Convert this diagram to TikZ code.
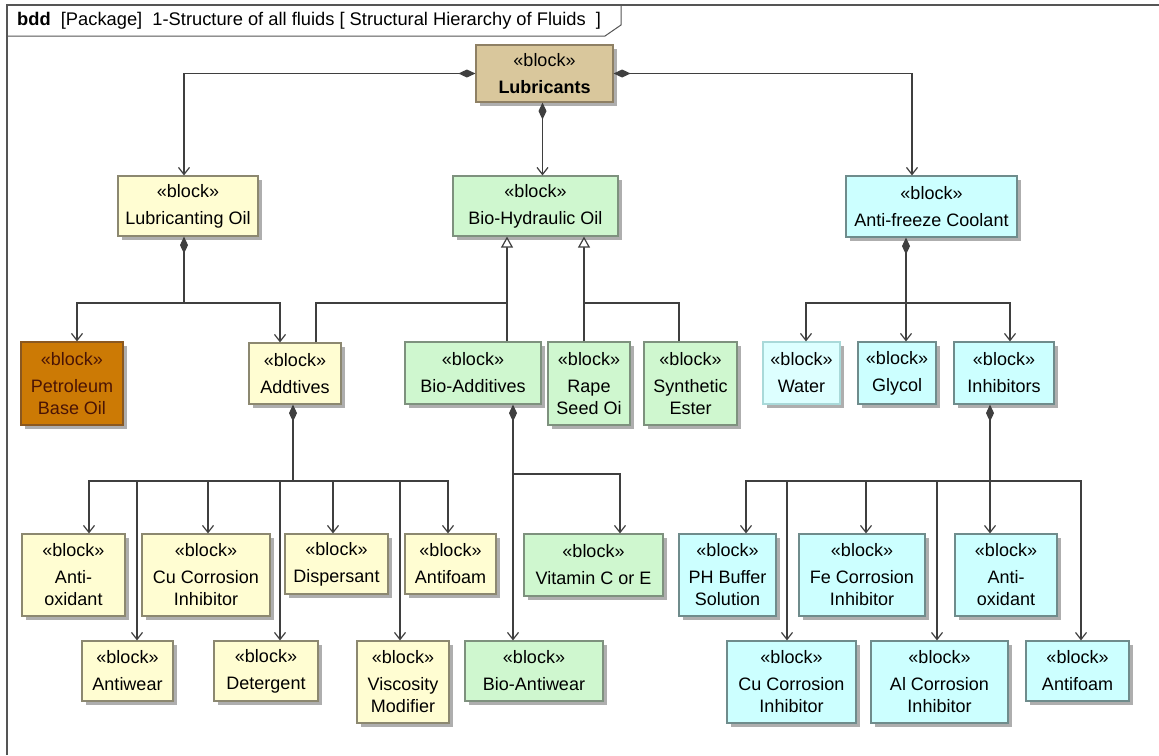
\documentclass[tikz,border=0pt]{standalone}
\usepackage{fontspec}
\setmainfont{Liberation Sans}
\usetikzlibrary{arrows.meta,shadows}
\definecolor{linec}{HTML}{3F3F3F}
\definecolor{framec}{HTML}{555555}
\definecolor{yelF}{HTML}{FFFDD2}
\definecolor{yelD}{HTML}{8C8870}
\definecolor{grnF}{HTML}{CFF7CF}
\definecolor{grnD}{HTML}{7E917E}
\definecolor{cyaF}{HTML}{CCFFFF}
\definecolor{cyaD}{HTML}{6F8C8C}
\definecolor{tanF}{HTML}{D9C79C}
\definecolor{tanD}{HTML}{8E8064}
\definecolor{ornF}{HTML}{CC7A05}
\definecolor{ornD}{HTML}{8A5820}
\definecolor{ornT}{HTML}{4A1405}
\definecolor{watF}{HTML}{DDFFFF}
\definecolor{watD}{HTML}{A9D9D9}
\definecolor{shad}{HTML}{A0A0A0}
\begin{document}
\begin{tikzpicture}[x=1pt,y=-1pt,
  blk/.style={draw, line width=1.2pt, rectangle, inner sep=0pt, align=center,
    font=\fontsize{18}{22}\selectfont, text=black,
    drop shadow={shadow xshift=4pt, shadow yshift=-4pt, fill=shad, opacity=0.85}},
  sz/.style 2 args={minimum width=#1pt, minimum height=#2pt},
  yel/.style={fill=yelF, draw=yelD},
  grn/.style={fill=grnF, draw=grnD},
  cya/.style={fill=cyaF, draw=cyaD},
  tanb/.style={fill=tanF, draw=tanD},
  orn/.style={fill=ornF, draw=ornD, text=ornT},
  wat/.style={fill=watF, draw=watD},
  conn/.style={draw=linec, line width=1.2pt},
  comp/.style={conn, {Diamond[length=17pt,width=8pt,fill=linec]}-},
  nav/.style={conn, -{Straight Barb[length=7pt,width=11pt]}},
  compnav/.style={conn, {Diamond[length=17pt,width=8pt,fill=linec]}-{Straight Barb[length=7pt,width=11pt]}},
  gen/.style={conn, -{Triangle[open,length=11pt,width=12pt,fill=white]}}
]
\useasboundingbox (0,0) rectangle (1159,755);
\fill[white] (0,0) rectangle (1159,755);
% frame
\draw[framec, line width=1.2pt] (7,755) -- (7,5) -- (1159,5);
\draw[framec, line width=1pt] (7,36) -- (605,36) -- (621,25) -- (621,5);
\node[anchor=west, inner sep=0pt, font=\fontsize{18.3}{20}\selectfont] (title) at (17,21)
  {\textbf{bdd}\ \ [Package]\ \ 1-Structure of all fluids [ Structural Hierarchy of Fluids\ \ ]};

% boxes
\node[blk, tanb, sz={137}{57}] (lub) at (544.5,73.5) {«block»\\[5pt]\textbf{Lubricants}};
\node[blk, yel, sz={140}{60}] (lo) at (188,206) {«block»\\[5pt]Lubricanting Oil};
\node[blk, grn, sz={165}{60}] (bho) at (535.5,206) {«block»\\[5pt]Bio-Hydraulic Oil};
\node[blk, cya, sz={171}{61}] (af) at (931.5,206.5) {«block»\\[5pt]Anti-freeze Coolant};

\node[blk, orn, sz={102}{83}] (pbo) at (72,383.5) {«block»\\[5pt]Petroleum\\Base Oil};
\node[blk, yel, sz={92}{61}] (add) at (295,373.5) {«block»\\[5pt]Addtives};
\node[blk, grn, sz={136}{62}] (bad) at (473,373) {«block»\\[5pt]Bio-Additives};
\node[blk, grn, sz={82}{83}] (rso) at (589,383.5) {«block»\\[5pt]Rape\\Seed Oi};
\node[blk, grn, sz={93}{83}] (se) at (690.5,383.5) {«block»\\[5pt]Synthetic\\Ester};
\node[blk, wat, sz={77}{62}] (wat) at (801.5,373) {«block»\\[5pt]Water};
\node[blk, cya, sz={78}{62}] (gly) at (897,373) {«block»\\[5pt]Glycol};
\node[blk, cya, sz={100}{62}] (inh) at (1004,373) {«block»\\[5pt]Inhibitors};

\node[blk, yel, sz={103}{82}] (ao1) at (73.5,575) {«block»\\[5pt]Anti-\\oxidant};
\node[blk, yel, sz={128}{82}] (cu1) at (206,575) {«block»\\[5pt]Cu Corrosion\\Inhibitor};
\node[blk, yel, sz={103}{60}] (dis) at (336.5,564) {«block»\\[5pt]Dispersant};
\node[blk, yel, sz={91}{60}] (af1) at (450.5,564) {«block»\\[5pt]Antifoam};
\node[blk, grn, sz={139}{62}] (vit) at (593.5,565) {«block»\\[5pt]Vitamin C or E};
\node[blk, yel, sz={91}{60}] (aw) at (127.5,671) {«block»\\[5pt]Antiwear};
\node[blk, yel, sz={104}{60}] (det) at (266,671) {«block»\\[5pt]Detergent};
\node[blk, yel, sz={92}{82}] (vm) at (403,682) {«block»\\[5pt]Viscosity\\Modifier};
\node[blk, grn, sz={138}{60}] (baw) at (534,671) {«block»\\[5pt]Bio-Antiwear};

\node[blk, cya, sz={97}{82}] (ph) at (727.5,575) {«block»\\[5pt]PH Buffer\\Solution};
\node[blk, cya, sz={126}{82}] (fe) at (862,575) {«block»\\[5pt]Fe Corrosion\\Inhibitor};
\node[blk, cya, sz={102}{82}] (ao2) at (1006,575) {«block»\\[5pt]Anti-\\oxidant};
\node[blk, cya, sz={129}{82}] (cu2) at (791.5,682) {«block»\\[5pt]Cu Corrosion\\Inhibitor};
\node[blk, cya, sz={137}{82}] (al) at (939.5,682) {«block»\\[5pt]Al Corrosion\\Inhibitor};
\node[blk, cya, sz={103}{60}] (af2) at (1077.5,671) {«block»\\[5pt]Antifoam};

% connectors from Lubricants
\draw[compnav] (lub.west) -| ([xshift=-4pt]lo.north);
\draw[compnav] ([xshift=-2pt]lub.south) -- ([xshift=-2pt]lub.south |- bho.north);
\draw[compnav] (lub.east) -| ([xshift=-19.5pt]af.north);

% Lubricating oil
\coordinate (loBus) at (184,303);
\draw[comp] ([xshift=-4pt]lo.south) -- (loBus);
\draw[nav] (loBus) -| ([xshift=5pt]pbo.north);
\draw[nav] (loBus) -| ([xshift=-15pt]add.north);

% Bio-hydraulic generalizations
\coordinate (g1) at (507,303);
\draw[gen] ([xshift=34pt]bad.north) -- ([xshift=-28.5pt]bho.south);
\draw[conn] ([xshift=21pt]add.north) |- (g1);
\coordinate (g2) at (584,303);
\draw[gen] ([xshift=-5pt]rso.north) -- ([xshift=48.5pt]bho.south);
\draw[conn] ([xshift=-11.5pt]se.north) |- (g2);

% Anti-freeze
\coordinate (afBus) at (906,303);
\draw[comp] ([xshift=-25.5pt]af.south) -- (afBus);
\draw[nav] (afBus) -| ([xshift=4.5pt]wat.north);
\draw[nav] (afBus) -- ([xshift=9pt]gly.north);
\draw[nav] (afBus) -| ([xshift=6pt]inh.north);

% Additives
\coordinate (addBus) at (293,481);
\draw[comp] ([xshift=-2pt]add.south) -- (addBus);
\draw[nav] (addBus) -| ([xshift=15.5pt]ao1.north);
\draw[nav] (addBus) -| ([xshift=9.5pt]aw.north);
\draw[nav] (addBus) -| ([xshift=2pt]cu1.north);
\draw[nav] (addBus) -| ([xshift=14pt]det.north);
\draw[nav] (addBus) -| ([xshift=-3.5pt]dis.north);
\draw[nav] (addBus) -| ([xshift=-3pt]vm.north);
\draw[nav] (addBus) -| ([xshift=-2.5pt]af1.north);

% Bio-additives
\coordinate (badBus) at (513,474);
\draw[compnav] ([xshift=40pt]bad.south) -- ([xshift=-21pt]baw.north);
\draw[nav] (badBus) -| ([xshift=26.5pt]vit.north);

% Inhibitors
\coordinate (inhBus) at (990,481);
\draw[comp] ([xshift=-14pt]inh.south) -- (inhBus);
\draw[nav] (inhBus) -- ([xshift=-16pt]ao2.north);
\draw[nav] (inhBus) -| ([xshift=18.5pt]ph.north);
\draw[nav] (inhBus) -| ([xshift=-4.5pt]cu2.north);
\draw[nav] (inhBus) -| ([xshift=4pt]fe.north);
\draw[nav] (inhBus) -| ([xshift=-2.5pt]al.north);
\draw[nav] (inhBus) -| ([xshift=3.5pt]af2.north);
\end{tikzpicture}
\end{document}
